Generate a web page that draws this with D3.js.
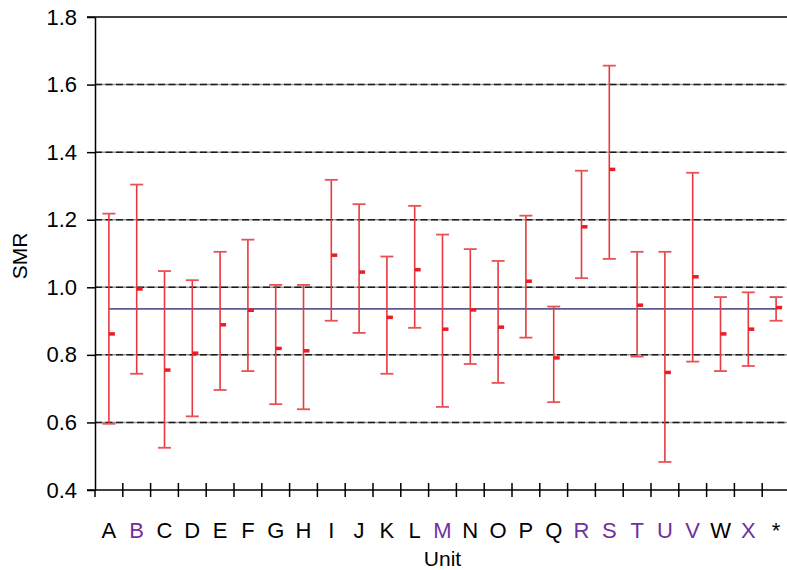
<!DOCTYPE html>
<html>
<head>
<meta charset="utf-8">
<script src="https://cdn.jsdelivr.net/npm/d3@7"></script>
<style>
  html, body { margin: 0; padding: 0; background: #fff; }
  svg { display: block; font-family: "Liberation Sans", Arial, sans-serif; }
</style>
</head>
<body>
<svg id="chart" width="787" height="570"></svg>
<script>
// Standardised mortality ratio per unit, with 95% confidence limits
const units    = ["A","B","C","D","E","F","G","H","I","J","K","L","M","N","O","P","Q","R","S","T","U","V","W","X","*"];
const smr      = [0.862,0.995,0.755,0.805,0.889,0.932,0.819,0.812,1.095,1.045,0.911,1.052,0.876,0.933,0.882,1.018,0.791,1.179,1.349,0.947,0.748,1.031,0.862,0.876,0.940];
const lower    = [0.596,0.744,0.525,0.618,0.696,0.752,0.654,0.639,0.901,0.865,0.744,0.880,0.646,0.773,0.717,0.851,0.660,1.027,1.084,0.795,0.483,0.780,0.752,0.767,0.901];
const upper    = [1.218,1.304,1.048,1.021,1.105,1.141,1.007,1.007,1.318,1.246,1.091,1.241,1.156,1.113,1.078,1.212,0.943,1.345,1.656,1.105,1.105,1.339,0.971,0.985,0.971];
const flagged  = ["B","M","R","S","T","U","V","X"];
const overall  = 0.936;
const yTicks   = [0.4,0.6,0.8,1.0,1.2,1.4,1.6,1.8];

const svg = d3.select("#chart");
const plotLeft = 95, plotTop = 17, plotBottom = 490, bandW = 27.8;

const x = d3.scaleBand().domain(units).range([plotLeft, plotLeft + bandW * units.length]).padding(0);
const y = d3.scaleLinear().domain([0.4, 1.8]).range([plotBottom, plotTop]);

// gridlines: grey base with dark dashes on top
const grid = svg.append("g");
yTicks.filter(v => v > 0.4 && v < 1.8).forEach(v => {
  grid.append("line").attr("x1", plotLeft).attr("x2", 787).attr("y1", y(v)).attr("y2", y(v))
    .attr("stroke", "#9a9a9a").attr("stroke-width", 1.5);
  grid.append("line").attr("x1", plotLeft).attr("x2", 787).attr("y1", y(v)).attr("y2", y(v))
    .attr("stroke", "#1a1a1a").attr("stroke-width", 1.5).attr("stroke-dasharray", "7,3.5");
});
// solid top border
svg.append("line").attr("x1", plotLeft - 8).attr("x2", 787).attr("y1", y(1.8)).attr("y2", y(1.8))
  .attr("stroke", "#000").attr("stroke-width", 1.5);

// y axis
const yAxis = svg.append("g").attr("transform", `translate(${plotLeft},0)`)
  .call(d3.axisLeft(y).tickValues(yTicks).tickFormat(d3.format(".1f")).tickSize(8).tickSizeOuter(0).tickPadding(10));
yAxis.select(".domain").attr("stroke", "#000").attr("stroke-width", 1.5);
yAxis.selectAll(".tick line").attr("stroke", "#000").attr("stroke-width", 1.5);
yAxis.selectAll("text").attr("font-size", 22).attr("fill", "#000")
  .attr("font-family", "Liberation Sans, Arial, sans-serif");

// x axis: labels centred in each band
const xAxis = svg.append("g").attr("transform", `translate(0,${plotBottom})`)
  .call(d3.axisBottom(x).tickSize(0).tickPadding(32));
xAxis.select(".domain").remove();
xAxis.selectAll("text").attr("font-size", 22)
  .attr("font-family", "Liberation Sans, Arial, sans-serif")
  .attr("fill", d => flagged.includes(d) ? "#70309f" : "#000");

// x axis line and crossing ticks at band boundaries
svg.append("line").attr("x1", plotLeft - 8).attr("x2", 787).attr("y1", plotBottom).attr("y2", plotBottom)
  .attr("stroke", "#000").attr("stroke-width", 1.5);
svg.append("g").selectAll("line").data(units).join("line")
  .attr("x1", d => x(d)).attr("x2", d => x(d))
  .attr("y1", (d, i) => i === 0 ? plotBottom : plotBottom - 7).attr("y2", plotBottom + 7)
  .attr("stroke", "#000").attr("stroke-width", 1.5);

// overall reference line
svg.append("line")
  .attr("x1", x(units[0]) + x.bandwidth() / 2)
  .attr("x2", x(units[units.length - 1]) + x.bandwidth() / 2)
  .attr("y1", y(overall)).attr("y2", y(overall))
  .attr("stroke", "#5c5c8e").attr("stroke-width", 1.6);

// error bars
const cx = d => x(d) + x.bandwidth() / 2;
const bars = svg.append("g").selectAll("g").data(units).join("g");
bars.append("line").attr("x1", cx).attr("x2", cx)
  .attr("y1", (d, i) => y(upper[i])).attr("y2", (d, i) => y(lower[i]))
  .attr("stroke", "#e63a3e").attr("stroke-width", 1.6);
bars.append("line").attr("x1", d => cx(d) - 6.5).attr("x2", d => cx(d) + 6.5)
  .attr("y1", (d, i) => y(upper[i])).attr("y2", (d, i) => y(upper[i]))
  .attr("stroke", "#e85257").attr("stroke-width", 1.8);
bars.append("line").attr("x1", d => cx(d) - 6.5).attr("x2", d => cx(d) + 6.5)
  .attr("y1", (d, i) => y(lower[i])).attr("y2", (d, i) => y(lower[i]))
  .attr("stroke", "#e85257").attr("stroke-width", 1.8);
bars.append("rect").attr("x", d => cx(d)).attr("width", 6)
  .attr("y", (d, i) => y(smr[i]) - 1.75).attr("height", 3.5)
  .attr("fill", "#ec1c24");

// axis titles
svg.append("text").attr("x", (plotLeft + plotLeft + bandW * units.length) / 2).attr("y", 566)
  .attr("text-anchor", "middle").attr("font-size", 21).text("Unit");
svg.append("text").attr("transform", "translate(27,256) rotate(-90)")
  .attr("text-anchor", "middle").attr("font-size", 21).text("SMR");
</script>
</body>
</html>
